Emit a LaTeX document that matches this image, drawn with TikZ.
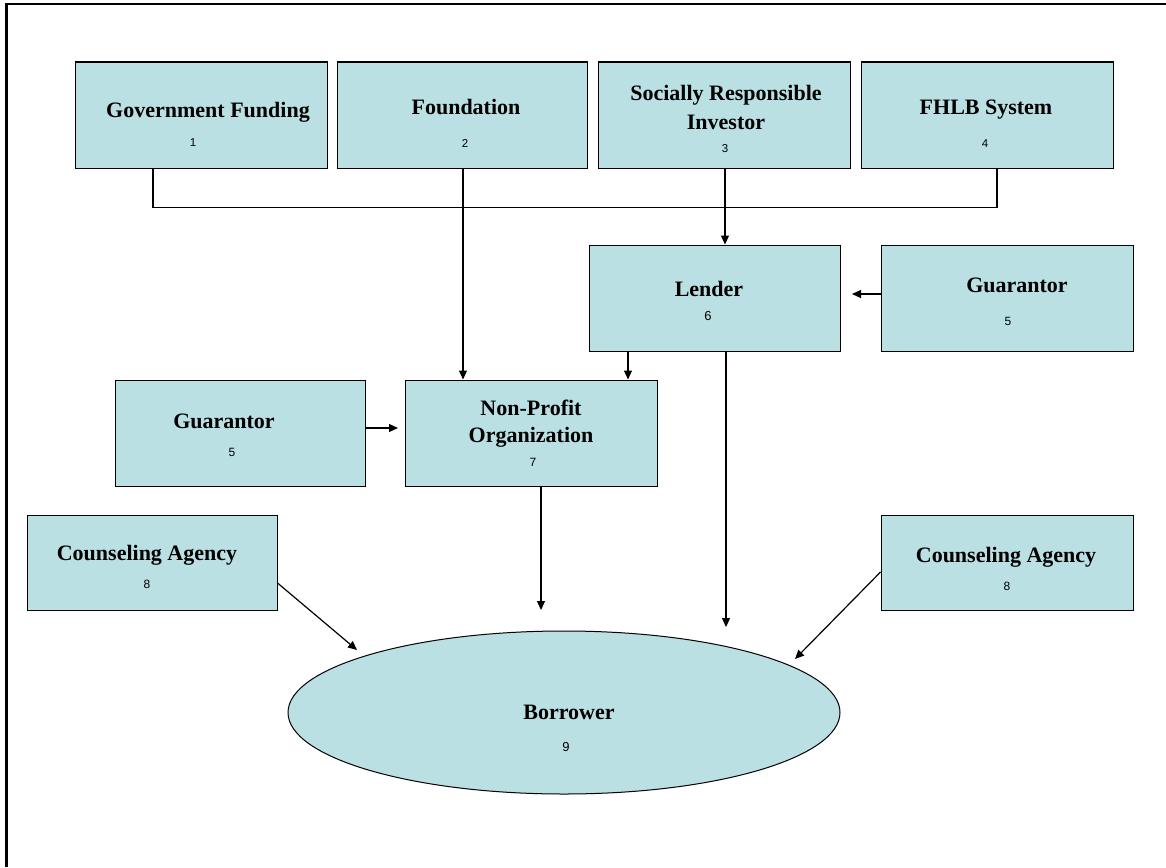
\documentclass[tikz,border=0pt]{standalone}
\usepackage{fontspec}
\setmainfont{Liberation Serif}
\newfontfamily\numfont{Liberation Sans}
\usetikzlibrary{arrows.meta,shapes.geometric}
\definecolor{boxcol}{RGB}{187,224,227}
\tikzset{
  boxnode/.style={draw=black, line width=1pt, fill=boxcol, inner sep=0pt, minimum width=252pt, minimum height=106pt},
  ttl/.style={font=\bfseries\fontsize{22}{29}\selectfont, align=center, inner sep=0pt},
  num/.style={font=\numfont\fontsize{12}{14}\selectfont, inner sep=0pt},
  conn/.style={line width=1.2pt, draw=black},
  arr/.style={conn, -{Triangle[length=9pt,width=8pt]}}
}
\begin{document}
\begin{tikzpicture}[x=1pt,y=-1pt]
\useasboundingbox (0,0) rectangle (1166,867);
\fill[white] (0,0) rectangle (1166,867);
\draw[line width=2.5pt] (6.5,867) -- (6.5,4) -- (1166,4);

% top row
\node[boxnode] (b1) at (201,115) {};
\node[boxnode, minimum width=250pt] (b2) at (462,115) {};
\node[boxnode] (b3) at (724,115) {};
\node[boxnode] (b4) at (987,115) {};
\node[ttl] (t1) at (208,112) {Government Funding};
\node[num, font=\numfont\fontsize{11.5}{13}\selectfont] (n1) at (193,143) {1};
\node[ttl] (t2) at (466,107) {Foundation};
\node[num, font=\numfont\fontsize{11.5}{13}\selectfont] (n2) at (465,143) {2};
\node[ttl] (t3) at (726,107.5) {Socially Responsible\\Investor};
\node[num, font=\numfont\fontsize{11.5}{13}\selectfont] (n3) at (725,149) {3};
\node[ttl] (t4) at (986,110) {FHLB System};
\node[num, font=\numfont\fontsize{11.5}{13}\selectfont] (n4) at (985,144) {4};

% middle
\node[boxnode, minimum width=251pt] (lender) at (714.5,298) {};
\node[ttl] (tl) at (709,289) {Lender};
\node[num, font=\numfont\fontsize{13}{15}\selectfont] (n6) at (708,316) {6};

\node[boxnode] (guarR) at (1007,298) {};
\node[ttl] (tgr) at (1017,285) {Guarantor};
\node[num] (n5r) at (1008,321) {5};

\node[boxnode, minimum width=250pt] (guarL) at (240,433) {};
\node[ttl] (tgl) at (224,421) {Guarantor};
\node[num] (n5l) at (232,452) {5};

\node[boxnode] (np) at (531,433) {};
\node[ttl, font=\bfseries\fontsize{22}{27}\selectfont] (tnp) at (531,423.5) {Non-Profit\\Organization};
\node[num] (n7) at (533,462) {7};

\node[boxnode, minimum width=250pt, minimum height=95pt] (cL) at (152,562.5) {};
\node[ttl] (tcl) at (147,555) {Counseling Agency};
\node[num] (n8l) at (147,584) {8};

\node[boxnode, minimum height=95pt] (cR) at (1007,562.5) {};
\node[ttl] (tcr) at (1006,557) {Counseling Agency};
\node[num] (n8r) at (1007,586) {8};

% borrower
\node[ellipse, draw=black, line width=1pt, fill=boxcol, inner sep=0pt, minimum width=552pt, minimum height=163pt] (bor) at (564,712.5) {};
\node[ttl] (tb) at (569,712) {Borrower};
\node[num, font=\numfont\fontsize{13}{15}\selectfont] (n9) at (566,747) {9};

% free ends
\coordinate (eGR) at (852,294);
\coordinate (eL) at (726,627);
\coordinate (eGL) at (398,428);
\coordinate (eNP) at (541,610);
\coordinate (eCL) at (357,650);
\coordinate (eCR) at (795,659);

% connectors
\draw[conn] ([xshift=-48pt]b1.south) -- ++(0,39) -| ([xshift=10pt]b4.south);
\draw[arr] ([xshift=1pt]b3.south) -- ([xshift=10.5pt]lender.north);
\draw[arr] ([xshift=1pt]b2.south) -- ([xshift=-68pt]np.north);
\draw[arr] ([yshift=4pt]guarR.west) -- (eGR);
\draw[arr] ([xshift=-86.5pt]lender.south) -- ([xshift=97pt]np.north);
\draw[arr] ([xshift=11.5pt]lender.south) -- (eL);
\draw[arr] ([yshift=5pt]guarL.east) -- (eGL);
\draw[arr] ([xshift=10pt]np.south) -- (eNP);
\draw[arr] ([yshift=-20.5pt]cL.east) -- (eCL);
\draw[arr] ([yshift=-9.5pt]cR.west) -- (eCR);
\end{tikzpicture}
\end{document}
